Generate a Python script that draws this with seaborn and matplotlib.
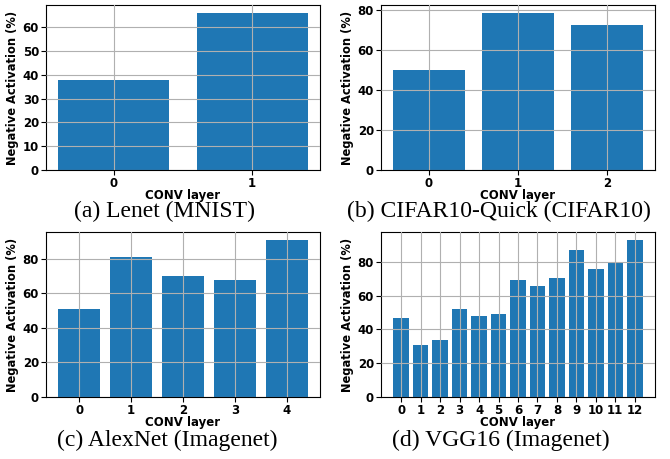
import numpy as np
import pandas as pd
import matplotlib
matplotlib.use("Agg")
import matplotlib.pyplot as plt
from matplotlib.ticker import MultipleLocator
import seaborn as sns

# Negative activation per CONV layer (%)
lenet = [38, 66]
cifar_quick = [50, 78.5, 72.5]
alexnet = [51, 81, 70, 67.5, 91]
vgg16 = [47, 31, 34, 52, 48, 49, 69.5, 65.5, 70.5, 87, 76, 79.5, 93]

captions = ["(a) Lenet (MNIST)", "(b) CIFAR10-Quick (CIFAR10)",
            "(c) AlexNet (Imagenet)", "(d) VGG16 (Imagenet)"]
ystep = [10, 20, 20, 20]

plt.rcParams["font.family"] = "DejaVu Sans"
plt.rcParams["font.weight"] = "bold"
plt.rcParams["axes.labelweight"] = "bold"

fig = plt.figure(figsize=(6.7, 4.59), dpi=100)
W, H = 670, 459

# axes boxes in pixels: left, top, right, bottom
boxes = [(46, 5, 320, 170), (381, 5, 655, 170),
         (46, 232, 320, 397), (381, 232, 655, 397)]
cap_pos = [(165, 211), (499, 211), (167, 440), (501, 440)]

for vals, box, cap, cp, st in zip([lenet, cifar_quick, alexnet, vgg16], boxes,
                                  captions, cap_pos, ystep):
    l, t, r, b = box
    ax = fig.add_axes([l / W, 1 - b / H, (r - l) / W, (b - t) / H])
    df = pd.DataFrame({"layer": np.arange(len(vals)), "neg": vals})
    sns.barplot(data=df, x="layer", y="neg", color="#1f77b4", saturation=1,
                width=0.8, ax=ax)
    n = len(vals)
    span = n - 1 + 0.8
    ax.set_xlim(-0.4 - 0.05 * span, n - 1 + 0.4 + 0.05 * span)
    ax.set_ylim(0, max(vals) * 1.05)
    ax.yaxis.set_major_locator(MultipleLocator(st))
    ax.set_axisbelow(False)
    ax.grid(True, color="#b0b0b0", linewidth=0.8)
    for s in ax.spines.values():
        s.set_color("black")
        s.set_linewidth(0.8)
    ax.tick_params(labelsize=8.5, length=3.5, width=0.8, pad=1.5)
    ax.set_xlabel("CONV layer", fontsize=8.5, fontweight="bold", labelpad=-0.5)
    ax.set_ylabel("Negative Activation (%)", fontsize=8.3, fontweight="bold", labelpad=3)
    fig.text(cp[0] / W, 1 - cp[1] / H, cap, ha="center", va="center",
             fontsize=17, family="Liberation Serif", fontweight="normal")

fig.savefig("out.png", dpi=100)
